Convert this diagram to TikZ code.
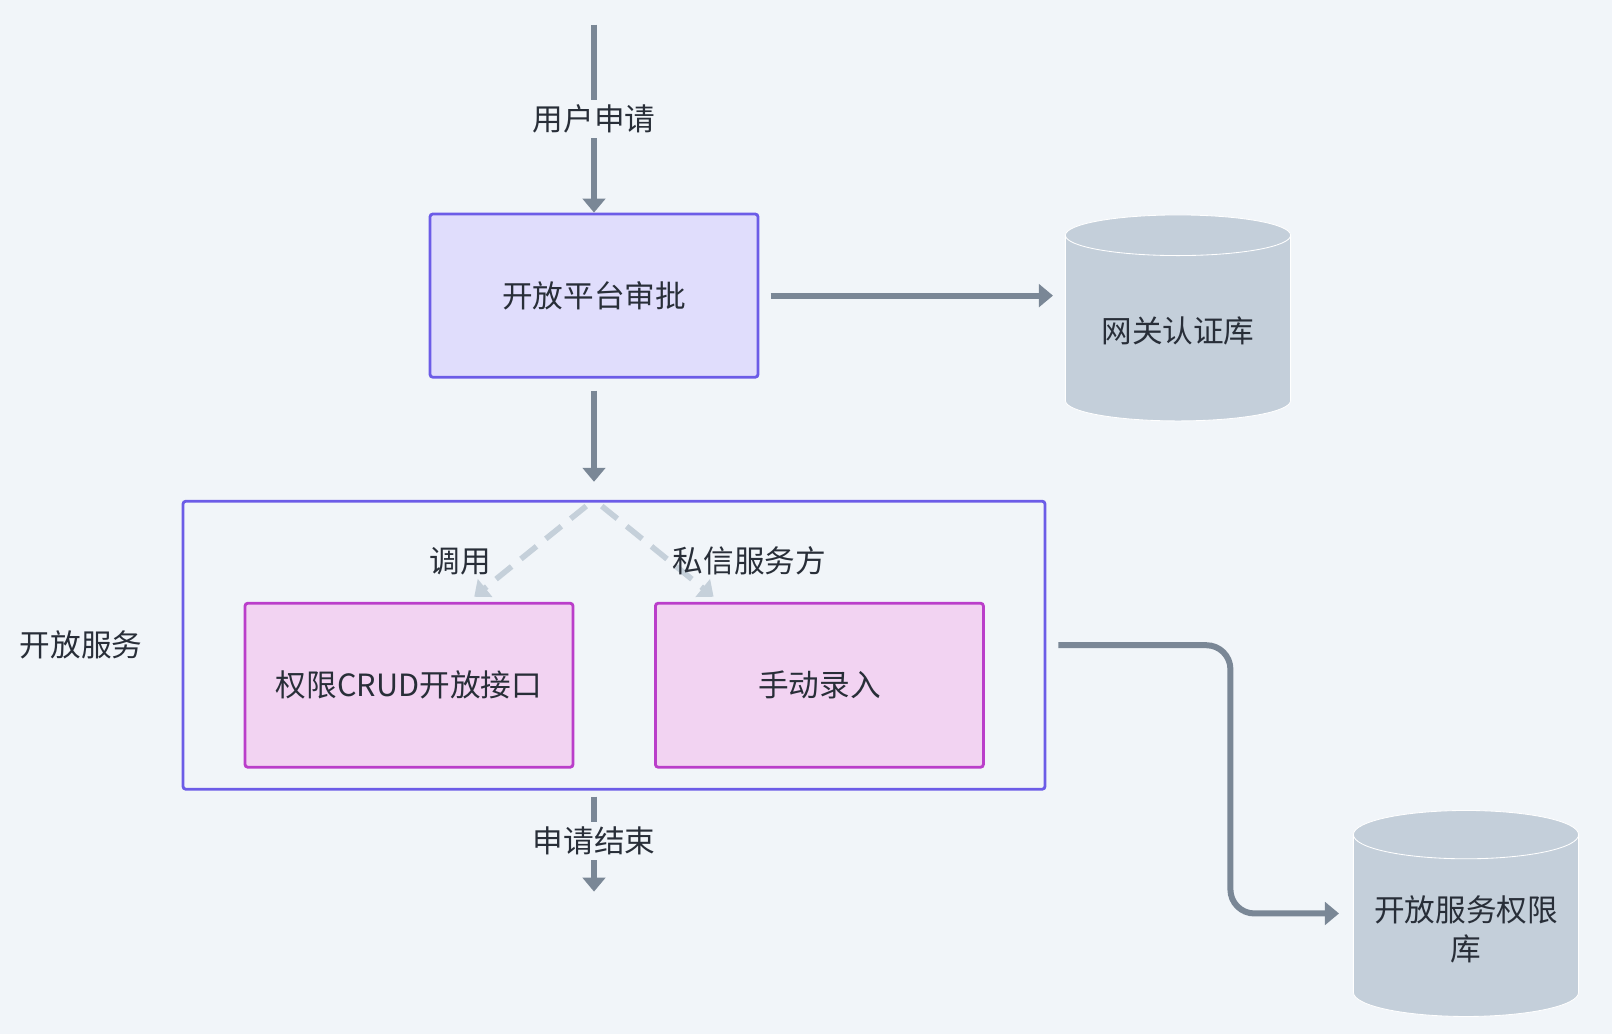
\documentclass[tikz,border=0pt]{standalone}
\usepackage{fontspec}
\setmainfont{Noto Sans CJK SC}
\usepackage{xcolor}
\usepackage{tikz}
\usetikzlibrary{shapes.geometric, arrows.meta}

\begin{document}
\begin{tikzpicture}[node distance=2cm, font=\fontsize{21.8}{28}\selectfont]
		\definecolor{bgslate}{RGB}{241,245,249}
		\definecolor{approvefill}{RGB}{224,221,252}
		\definecolor{approveline}{RGB}{108,92,231}
		\definecolor{entryfill}{RGB}{242,211,242}
		\definecolor{entryline}{RGB}{186,62,202}
		\definecolor{dbgray}{RGB}{196,207,218}
		\definecolor{linkgray}{RGB}{122,135,150}
		\definecolor{hintgray}{RGB}{197,208,218}
		\definecolor{textdark}{RGB}{40,46,56}
		\tikzstyle{approve} = [rectangle, rounded corners=2pt, minimum width=8.2cm, minimum height=4.08cm, text centered, text=textdark, line width=2pt, draw=approveline, fill=approvefill]
		\tikzstyle{group} = [rectangle, rounded corners=2pt, minimum width=21.55cm, minimum height=7.2cm, line width=2pt, draw=approveline]
		\tikzstyle{entry} = [rectangle, rounded corners=2pt, minimum width=8.2cm, minimum height=4.1cm, text centered, text=textdark, line width=2pt, draw=entryline, fill=entryfill]
		\tikzstyle{database} = [cylinder, shape border rotate=90, aspect=0.25, minimum width=5.63cm, minimum height=5.15cm, text=textdark, draw=white, line width=0.6pt, fill=dbgray]
		\tikzstyle{tag} = [text=textdark]
		\tikzstyle{arrow} = [-{Triangle[length=0.35cm, width=0.56cm]}, line width=0.15cm, draw=linkgray]
		\tikzstyle{hint} = [-{Triangle[length=0.35cm, width=0.56cm]}, line width=0.14cm, draw=hintgray, dash pattern=on 0.5cm off 0.3cm]
		
		\path [use as bounding box, fill=bgslate] (0,0) rectangle (40.3,-25.85);
		
		\node (approval) [approve] at (14.85,-7.39) {开放平台审批};
		\node (gatewaydb) [database, right of=approval, xshift=12.6cm, yshift=-0.89cm] {网关认证库};
		\node (services) [group, below of=approval, xshift=0.5cm, yshift=-6.74cm] {};
		\node (services_label) [tag, left of=services, xshift=-11.32cm] {开放服务};
		\node (crud_api) [entry, below of=services, xshift=-5.125cm, yshift=1cm] {权限CRUD开放接口};
		\node (manual) [entry, right of=crud_api, xshift=8.26cm] {手动录入};
		\node (servicedb) [database, below of=gatewaydb, xshift=7.2cm, yshift=-12.95cm, align=center] {开放服务权限\\库};
		
		\coordinate (request) at ([yshift=4.7cm]approval.north);
		\coordinate (split) at (approval.south |- services.north);
		\coordinate (merge) at (approval.south |- services.south);
		\coordinate (finish) at ([yshift=-2.525cm]merge);
		\coordinate (bend) at ([xshift=4.6cm]services.east |- servicedb.shape center);
		
		\draw [arrow] (request) -- node[tag, fill=bgslate] {用户申请} (approval);
		\draw [arrow, shorten <=0.28cm, shorten >=0.3cm] (approval.east) -- (approval.east -| gatewaydb.west);
		\draw [arrow, shorten <=0.3cm, shorten >=0.45cm] (approval) -- (split);
		\draw [hint, shorten <=0.25cm, shorten >=0.2cm] (split) -- node[tag, pos=0.6, anchor=east, xshift=-0.5cm] {调用} ([xshift=1.475cm]crud_api.north);
		\draw [hint, shorten <=0.25cm, shorten >=0.2cm] (split) -- node[tag, pos=0.6, anchor=west, xshift=-0.1cm] {私信服务方} ([xshift=-2.49cm]manual.north);
		\draw [arrow, shorten <=0.15cm] (merge) -- node[tag, fill=bgslate] {申请结束} (finish);
		\draw [arrow, rounded corners=0.6cm, shorten <=0.3cm, shorten >=0.35cm] (services.east) -| (bend) -- (bend -| servicedb.west);
\end{tikzpicture}
\end{document}
